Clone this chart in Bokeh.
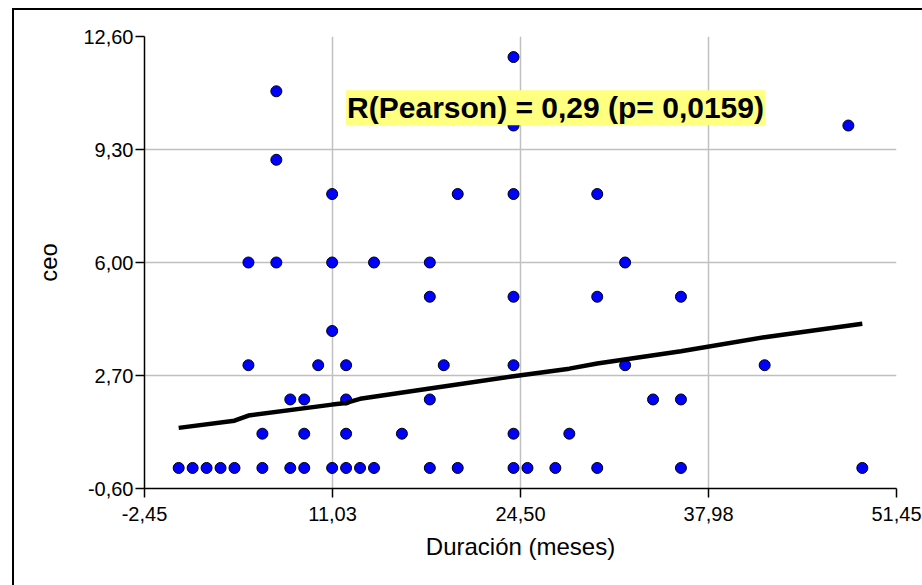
from bokeh.plotting import figure
from bokeh.models import Range1d, FixedTicker, Label
from bokeh.embed import file_html
from bokeh.resources import INLINE

# ---- data ----
duracion = [0, 1, 2, 3, 4, 6, 8, 9, 11, 12, 13, 14, 18, 20, 24, 25, 27, 30, 36, 49,
            6, 9, 12, 16, 24, 28,
            8, 9, 12, 18, 34, 36,
            5, 10, 12, 19, 24, 32, 42,
            11,
            18, 24, 30, 36,
            5, 7, 11, 14, 18, 32,
            11, 20, 24, 30,
            7,
            24, 48,
            7,
            24]
ceo = [0] * 20 + [1] * 6 + [2] * 6 + [3] * 7 + [4] * 1 + [5] * 4 + [6] * 6 + \
      [8] * 4 + [9] * 1 + [10] * 2 + [11] * 1 + [12] * 1

fit_x = [0, 4, 5, 11, 12, 13, 18, 24, 28, 30, 36, 42, 49]
fit_y = [1.17, 1.38, 1.53, 1.85, 1.90, 2.02, 2.32, 2.68, 2.90, 3.05, 3.41, 3.82, 4.21]

x_ticks = [-2.45, 11.03, 24.50, 37.98, 51.45]
x_tick_labels = ["-2,45", "11,03", "24,50", "37,98", "51,45"]
y_ticks = [-0.60, 2.70, 6.00, 9.30, 12.60]
y_tick_labels = ["-0,60", "2,70", "6,00", "9,30", "12,60"]

x_label = "Duración (meses)"
y_label = "ceo"
annotation = "R(Pearson) = 0,29 (p= 0,0159)"

FONT = "Liberation Sans"

p = figure(width=922, height=585, output_backend="svg", toolbar_location=None,
           x_range=Range1d(x_ticks[0], x_ticks[-1]),
           y_range=Range1d(y_ticks[0], y_ticks[-1]),
           min_border_left=144, min_border_top=36, min_border_right=26,
           min_border_bottom=97)
# outer frame lines (left and top), drawn without affecting layout
p.styles = {"box-shadow": "inset 12px 8px 0 0 white, inset 14px 10px 0 0 black"}
p.outline_line_color = None
p.background_fill_color = "white"
p.border_fill_color = None

for ax, ticks, labels in ((p.xaxis[0], x_ticks, x_tick_labels), (p.yaxis[0], y_ticks, y_tick_labels)):
    ax.ticker = FixedTicker(ticks=ticks)
    ax.major_label_overrides = {t: l for t, l in zip(ticks, labels)}
    ax.minor_tick_line_color = None
    ax.major_tick_in = 0
    ax.major_tick_out = 9
    ax.major_tick_line_color = "black"
    ax.major_tick_line_width = 1.5
    ax.axis_line_color = "black"
    ax.axis_line_width = 1.5
    ax.major_label_text_font = FONT
    ax.major_label_text_font_size = "20px"
    ax.major_label_text_color = "black"
    ax.axis_label_text_font = FONT
    ax.axis_label_text_font_style = "normal"
    ax.axis_label_text_font_size = "24px"
    ax.axis_label_text_color = "black"

p.xaxis.axis_label = x_label
p.yaxis.axis_label = y_label
p.xaxis.major_label_standoff = 9
p.yaxis.major_label_standoff = 2
p.xaxis.axis_label_standoff = 9
p.yaxis.axis_label_standoff = 18
p.yaxis.major_label_orientation = "horizontal"

for g, ticks in ((p.xgrid[0], x_ticks), (p.ygrid[0], y_ticks)):
    g.ticker = FixedTicker(ticks=ticks)
    g.grid_line_color = "#C0C0C0"
    g.grid_line_width = 1.5

p.scatter(duracion, ceo, size=11, fill_color="#0000FF", line_color="black", line_width=1)
p.line(fit_x, fit_y, line_color="black", line_width=4.5)

lab = Label(x=12.0, y=10.52, text=annotation, text_font=FONT, text_font_style="bold",
            text_font_size="30px", text_baseline="middle", text_color="black",
            background_fill_color="#FFFF80", padding=1)
p.add_layout(lab)

open("out.html", "w").write(file_html(p, INLINE))
